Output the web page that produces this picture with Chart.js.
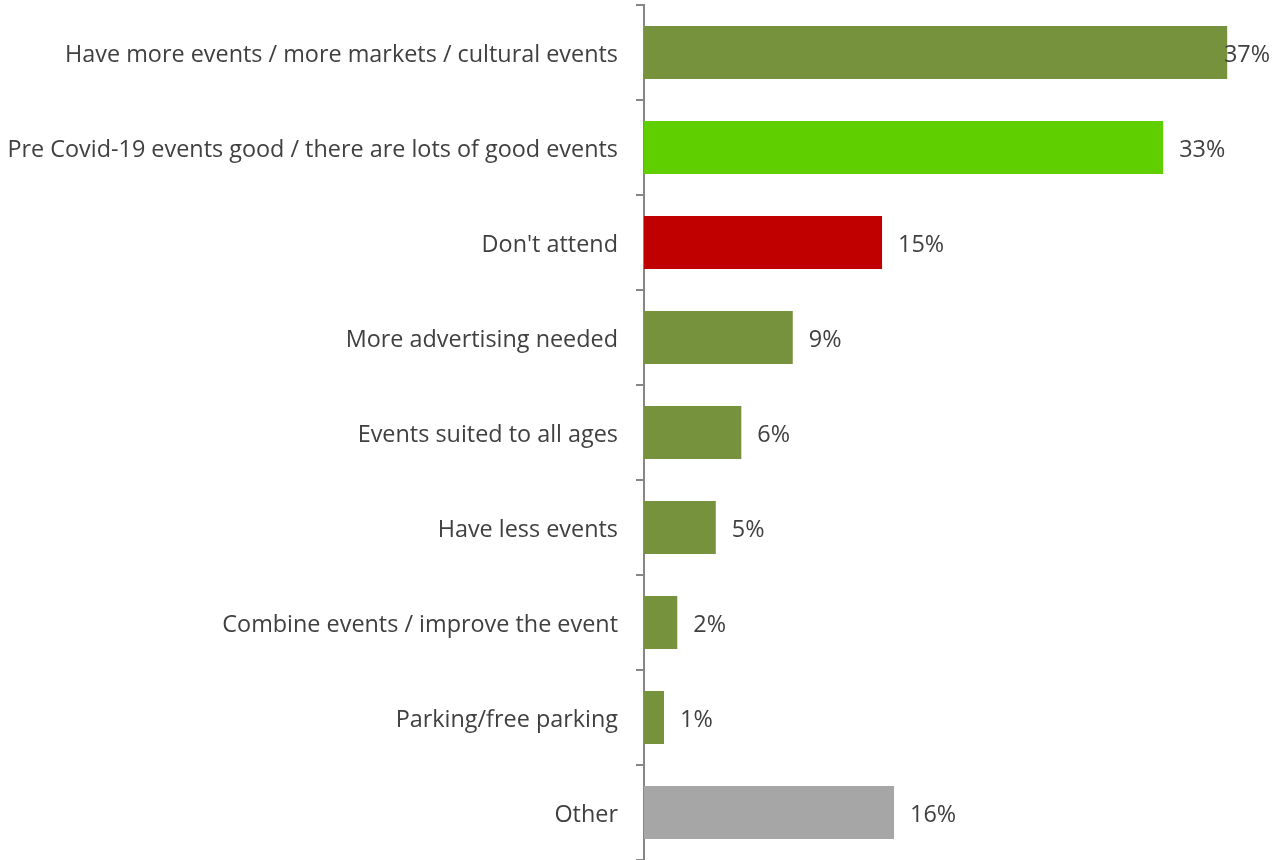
<!DOCTYPE html>
<html>
<head>
<meta charset="utf-8">
<script src="https://cdn.jsdelivr.net/npm/chart.js@4/dist/chart.umd.min.js"></script>
<style>
  html, body { margin: 0; padding: 0; background: #ffffff; overflow: hidden; }
  #wrap { position: relative; width: 1285px; height: 860px; }
</style>
</head>
<body>
<div id="wrap"><canvas id="c" width="1285" height="860"></canvas></div>
<script>
const categories = [
  "Have more events / more markets / cultural events",
  "Pre Covid-19 events good / there are lots of good events",
  "Don't attend",
  "More advertising needed",
  "Events suited to all ages",
  "Have less events",
  "Combine events / improve the event",
  "Parking/free parking",
  "Other"
];
const values = [36.97, 32.91, 15.09, 9.43, 6.17, 4.55, 2.11, 1.27, 15.85];
const barColors = ["#77923C", "#5FCF00", "#C00000", "#77923C", "#77923C", "#77923C", "#77923C", "#77923C", "#A6A6A6"];

const FONT = "'Open Sans', 'Liberation Sans', sans-serif";
const TEXT = "#404040";
const FSIZE = 23.4;

const dataLabels = {
  id: 'dataLabels',
  afterDatasetsDraw(chart) {
    const ctx = chart.ctx;
    const meta = chart.getDatasetMeta(0);
    ctx.save();
    ctx.font = FSIZE + "px " + FONT;
    ctx.fillStyle = TEXT;
    ctx.textBaseline = 'middle';
    ctx.textAlign = 'left';
    meta.data.forEach((bar, i) => {
      const txt = Math.round(values[i]) + "%";
      const w = ctx.measureText(txt).width;
      let x = bar.x + 16;
      const maxX = chart.width - 15 - w;
      if (x > maxX) x = maxX;
      ctx.fillText(txt, x, bar.y + 2.5);
    });
    ctx.restore();
  }
};

new Chart(document.getElementById('c'), {
  type: 'bar',
  data: {
    labels: categories,
    datasets: [{
      data: values,
      backgroundColor: barColors,
      borderWidth: 0,
      barPercentage: 0.558,
      categoryPercentage: 1.0
    }]
  },
  options: {
    indexAxis: 'y',
    responsive: false,
    animation: false,
    devicePixelRatio: 1,
    layout: { padding: { top: 5, bottom: 0, left: 0, right: 10 } },
    plugins: { legend: { display: false }, tooltip: { enabled: false } },
    scales: {
      x: {
        display: false,
        min: 0,
        max: 40
      },
      y: {
        position: 'left',
        afterFit(scale) {
          scale.width = 644;
          scale.paddingTop = 0;
          scale.paddingBottom = 0;
        },
        grid: {
          offset: true,
          drawOnChartArea: false,
          drawTicks: true,
          tickLength: 8,
          color: '#868686',
          lineWidth: 2
        },
        border: { display: true, color: '#868686', width: 2 },
        ticks: {
          padding: 18,
          labelOffset: 2.5,
          color: TEXT,
          font: { family: FONT, size: FSIZE },
          autoSkip: false
        }
      }
    }
  },
  plugins: [dataLabels]
});
</script>
</body>
</html>
